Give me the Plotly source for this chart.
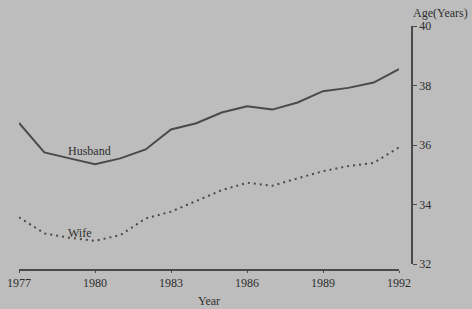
import plotly.graph_objects as go

years = list(range(1977, 1993))
husband = [36.74, 35.75, 35.55, 35.35, 35.55, 35.85, 36.52, 36.73, 37.09, 37.30,
           37.19, 37.43, 37.81, 37.92, 38.10, 38.55]
wife = [33.57, 33.03, 32.88, 32.78, 32.97, 33.53, 33.76, 34.11, 34.48, 34.73,
        34.63, 34.88, 35.12, 35.29, 35.40, 35.92]
x_ticks = [1977, 1980, 1983, 1986, 1989, 1992]
y_ticks = [32, 34, 36, 38, 40]

bg = "#bdbdbd"
ink = "#4a4a4a"
txt = "#2e2e2e"
font = "Liberation Serif"

W, H = 472, 309
L, R, T, B = 19, 60, 26, 39
pw, ph = W - L - R, H - T - B


def px(x):
    return (x - L) / pw


def py(y):
    return (H - B - y) / ph


fig = go.Figure()
fig.add_trace(go.Scatter(x=years, y=husband, mode="lines",
                         line=dict(color=ink, width=2), showlegend=False))
fig.add_trace(go.Scatter(x=years, y=wife, mode="lines",
                         line=dict(color=ink, width=2, dash="2px,4px"), showlegend=False))

fig.update_layout(
    width=W, height=H,
    paper_bgcolor=bg, plot_bgcolor=bg,
    margin=dict(l=L, r=R, t=T, b=B, autoexpand=False),
    font=dict(family=font, size=12, color=txt),
    xaxis=dict(range=[1977, 1992], domain=[0, 380 / pw], anchor="free", position=0,
               tickvals=x_ticks, showgrid=False, zeroline=False, automargin=False,
               showline=True, linecolor=ink, linewidth=1.5,
               ticks="outside", ticklen=2, tickcolor=ink,
               tickfont=dict(color=txt, size=12)),
    yaxis=dict(range=[32, 40], domain=[6 / ph, 1], anchor="free", position=393 / pw, side="right",
               tickvals=y_ticks, showgrid=False, zeroline=False, automargin=False,
               showline=True, linecolor=ink, linewidth=1.5,
               ticks="outside", ticklen=4, tickcolor=ink,
               tickfont=dict(color=txt, size=12)),
    annotations=[
        dict(x=1977 + (89 - 19) / 25.33, y=husband[3] + 0.45, text="Husband", showarrow=False,
             xref="x", yref="y", font=dict(size=12, color=txt)),
        dict(x=1977 + (80 - 19) / 25.33, y=wife[3] + 0.27, text="Wife", showarrow=False,
             xref="x", yref="y", font=dict(size=12, color=txt)),
        dict(x=px(411), y=py(13), xref="paper", yref="paper",
             text="Age(Years)", showarrow=False,
             xanchor="left", yanchor="middle", font=dict(size=12, color=txt)),
        dict(x=px(209), y=py(301), xref="paper", yref="paper",
             text="Year", showarrow=False,
             xanchor="center", yanchor="middle", font=dict(size=12, color=txt)),
    ],
)

fig.write_html("out.html", config={"displayModeBar": False},
               post_script="document.body.style.margin='0';document.body.style.background='%s';" % bg)
